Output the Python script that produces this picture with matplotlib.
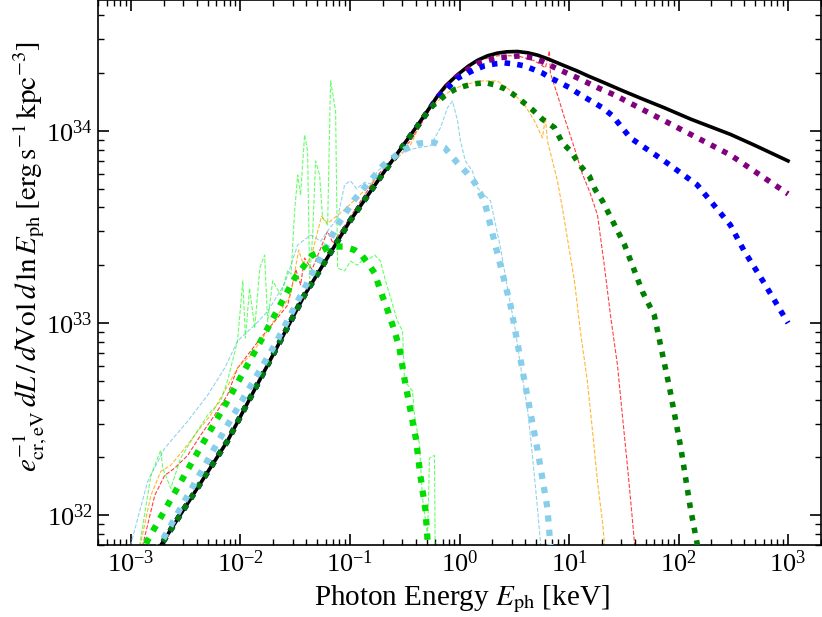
import matplotlib
matplotlib.use('Agg')
import matplotlib.pyplot as plt

plt.rcParams['font.family'] = 'serif'
plt.rcParams['font.serif'] = ['Liberation Serif', 'DejaVu Serif']
plt.rcParams['mathtext.fontset'] = 'stix'

# ---- thick model curves (keV, erg/s/kpc^3) ----
E_total = [1.7e-3, 7.6e-3, 3.85e-2, 0.1, 0.2, 0.414, 0.5, 0.63, 0.75, 0.959, 1.2, 1.46, 1.8, 2.22, 2.7, 3.38, 4.2, 5.15, 6.3, 7.84, 9.5, 11.9, 15, 21.0, 30, 45, 74, 130, 297, 500, 1000]
L_total = [6.4e31, 2.43e32, 1.40e33, 3.4e33, 6.0e33, 1.07e34, 1.25e34, 1.52e34, 1.72e34, 1.96e34, 2.17e34, 2.33e34, 2.46e34, 2.54e34, 2.58e34, 2.59e34, 2.55e34, 2.48e34, 2.38e34, 2.26e34, 2.16e34, 2.05e34, 1.93e34, 1.78e34, 1.63e34, 1.48e34, 1.32e34, 1.15e34, 9.6e33, 8.4e33, 6.98e33]

E_purple = [1.7e-3, 7.6e-3, 3.85e-2, 0.1, 0.2, 0.414, 0.63, 0.959, 1.46, 2.22, 3.6, 4.63, 5.48, 8.17, 11.9, 18.2, 25.9, 74, 297, 1000]
L_purple = [6.4e31, 2.43e32, 1.40e33, 3.4e33, 6.0e33, 1.06e34, 1.50e34, 1.93e34, 2.25e34, 2.40e34, 2.46e34, 2.40e34, 2.32e34, 2.08e34, 1.89e34, 1.68e34, 1.54e34, 1.13e34, 7.5e33, 4.7e33]

E_blue = [1.7e-3, 7.6e-3, 3.85e-2, 0.1, 0.2, 0.414, 0.63, 0.959, 1.37, 1.69, 2.08, 2.57, 3.18, 3.92, 4.83, 5.72, 6.76, 8.3, 10.1, 11.9, 14.1, 17.0, 20.2, 24.9, 36.3, 74, 148, 297, 398, 604, 1000]
L_blue = [6.4e31, 2.43e32, 1.40e33, 3.4e33, 6.0e33, 1.06e34, 1.48e34, 1.88e34, 2.08e34, 2.18e34, 2.23e34, 2.26e34, 2.23e34, 2.18e34, 2.08e34, 2.0e34, 1.89e34, 1.78e34, 1.68e34, 1.58e34, 1.49e34, 1.40e34, 1.32e34, 1.20e34, 9.2e33, 6.98e33, 5.24e33, 3.24e33, 2.37e33, 1.62e33, 1.0e33]

E_green = [1.7e-3, 7.6e-3, 3.85e-2, 0.1, 0.2, 0.414, 0.543, 0.729, 0.9, 1.11, 1.37, 1.73, 2.08, 2.57, 3.05, 3.6, 4.63, 5.72, 7.37, 8.7, 10.3, 12.7, 15.3, 17.4, 20.2, 32, 47, 60, 83, 105, 128, 148, 156]
L_green = [6.4e31, 2.43e32, 1.40e33, 3.4e33, 6.0e33, 1.06e34, 1.32e34, 1.52e34, 1.64e34, 1.71e34, 1.76e34, 1.78e34, 1.74e34, 1.66e34, 1.56e34, 1.45e34, 1.29e34, 1.15e34, 1.04e34, 8.66e33, 7.87e33, 6.58e33, 5.83e33, 4.93e33, 4.32e33, 2.57e33, 1.45e33, 1.10e33, 4.57e32, 2.24e32, 1.10e32, 7.1e31, 6.0e31]

E_sky = [1.7e-3, 7.6e-3, 2.05e-2, 7.71e-2, 0.11, 0.2, 0.3, 0.42, 0.59, 0.73, 0.83, 0.96, 1.18, 1.37, 1.69, 2.22, 2.92, 3.92, 5.15, 6.35, 6.9]
L_sky = [6.5e31, 2.94e32, 7.67e32, 3.24e33, 4.4e33, 6.6e33, 7.9e33, 8.6e33, 8.7e33, 8.2e33, 7.5e33, 6.8e33, 6.0e33, 5.4e33, 4.3e33, 2.3e33, 1.24e33, 5.0e32, 2.2e32, 1.09e32, 6.0e31]

E_lime = [1.3e-3, 1.4e-3, 3.82e-3, 7.6e-3, 1.53e-2, 3.12e-2, 4.5e-2, 6.5e-2, 8.9e-2, 0.11, 0.13, 0.15, 0.168, 0.19, 0.22, 0.255, 0.283, 0.315, 0.357, 0.40, 0.44, 0.49, 0.51, 0.52]
L_lime = [6.0e31, 7.3e31, 2.0e32, 3.93e32, 8.06e32, 1.71e33, 2.25e33, 2.5e33, 2.5e33, 2.4e33, 2.23e33, 2.0e33, 1.82e33, 1.47e33, 1.17e33, 9.1e32, 7.4e32, 5.1e32, 3.5e32, 2.5e32, 1.6e32, 1.05e32, 7.5e31, 6.0e31]

# ---- thin dashed simulated spectra ----
E_red_d = [1.2e-3, 1.65e-3, 2.03e-3, 2.51e-3, 3.3e-3, 4.33e-3, 5.82e-3, 7.6e-3, 9.4e-3, 1.16e-2, 1.53e-2, 2.05e-2, 2.7e-2, 3.2e-2, 3.54e-2, 3.85e-2, 4.5e-2, 6.25e-2, 7.0e-2, 0.179, 0.357, 0.63, 0.959, 1.46, 2.22, 3.38, 4.83, 6.09, 6.62, 6.76, 7.84, 9.27, 11.2, 13.2, 15.5, 18.2, 21.0, 23.9, 27.7, 30.7, 34.1, 37.1, 39.5, 40.5]
L_red_d = [6.0e31, 1.27e32, 1.61e32, 1.76e32, 2.05e32, 2.61e32, 3.32e32, 4.22e32, 5.83e32, 6.81e32, 8.36e32, 1.02e33, 1.24e33, 1.9e33, 1.58e33, 2.18e33, 1.9e33, 3.01e33, 2.6e33, 5.9e33, 8.87e33, 1.49e34, 1.96e34, 2.32e34, 2.46e34, 2.46e34, 2.32e34, 2.13e34, 2.61e34, 2.0e34, 1.54e34, 1.13e34, 8.16e33, 6.0e33, 4.8e33, 3.65e33, 2.0e33, 1.10e33, 6.04e32, 3.32e32, 1.82e32, 1.09e32, 7.3e31, 6.0e31]

E_orange_d = [1.15e-3, 1.52e-3, 1.87e-3, 2.31e-3, 3.1e-3, 4.07e-3, 5.34e-3, 7.18e-3, 9.4e-3, 1.24e-2, 1.66e-2, 2.19e-2, 2.87e-2, 3.4e-2, 3.85e-2, 4.5e-2, 5.5e-2, 6.25e-2, 8.93e-2, 0.179, 0.357, 0.48, 0.63, 0.828, 1.11, 1.56, 2.22, 2.92, 3.92, 4.83, 5.72, 6.09, 6.35, 7.06, 7.84, 8.7, 11.2, 12.7, 14.7, 16.4, 18.2, 20.2, 21.0, 21.5]
L_orange_d = [6.0e31, 1.27e32, 1.69e32, 1.82e32, 2.23e32, 2.74e32, 3.32e32, 4.43e32, 5.83e32, 6.81e32, 8.66e32, 1.10e33, 1.40e33, 2.4e33, 1.93e33, 2.3e33, 3.6e33, 3.3e33, 3.9e33, 5.69e33, 8.45e33, 1.21e34, 1.43e34, 1.62e34, 1.74e34, 1.82e34, 1.82e34, 1.62e34, 1.37e34, 1.13e34, 9.2e33, 1.17e34, 8.87e33, 6.98e33, 5.5e33, 3.97e33, 1.66e33, 9.08e32, 4.99e32, 2.74e32, 1.50e32, 9.3e31, 7.3e31, 6.0e31]

E_sky_d = [9.6e-4, 1.42e-3, 2.03e-3, 3.3e-3, 5.02e-3, 7.18e-3, 9.4e-3, 1.35e-2, 1.77e-2, 2.53e-2, 3.33e-2, 4.37e-2, 5.4e-2, 6.25e-2, 7.71e-2, 8.93e-2, 0.101, 0.115, 0.136, 0.154, 0.179, 0.255, 0.315, 0.414, 0.543, 0.671, 0.777, 0.863, 0.959, 1.02, 1.13, 1.31, 1.46, 1.69, 1.92, 2.37, 2.74, 3.18, 3.6, 4.17, 4.63, 5.15, 5.48, 5.6]
L_sky_d = [6.5e31, 1.50e32, 2.23e32, 3.09e32, 4.22e32, 5.83e32, 8.06e32, 9.77e32, 1.15e33, 1.6e33, 2.55e33, 2.87e33, 2.67e33, 3.01e33, 3.52e33, 5.24e33, 5.5e33, 5.0e33, 5.4e33, 5.3e33, 6.19e33, 7.23e33, 7.87e33, 8.16e33, 8.36e33, 1.04e34, 1.32e34, 1.43e34, 1.13e34, 8.87e33, 6.98e33, 6.19e33, 5.05e33, 4.64e33, 4.32e33, 2.46e33, 1.52e33, 9.77e32, 6.04e32, 3.61e32, 2.05e32, 1.09e32, 7.3e31, 6.0e31]

E_lime_d = [1.15e-3, 1.52e-3, 1.87e-3, 1.95e-3, 2.31e-3, 2.84e-3, 3.82e-3, 5.02e-3, 6.6e-3, 7.6e-3, 9.4e-3, 1.05e-2, 1.11e-2, 1.21e-2, 1.35e-2, 1.5e-2, 1.66e-2, 1.77e-2, 1.97e-2, 2.33e-2, 2.7e-2, 2.9e-2, 3.12e-2, 3.33e-2, 3.54e-2, 3.85e-2, 4.1e-2, 4.28e-2, 4.56e-2, 4.85e-2, 5.28e-2, 5.62e-2, 6.25e-2, 6.65e-2, 7.39e-2, 7.71e-2, 8.93e-2, 0.101, 0.117, 0.136, 0.154, 0.168, 0.19, 0.211, 0.235, 0.272, 0.302, 0.315, 0.372, 0.388, 0.431, 0.459, 0.511, 0.532, 0.591, 0.6]
L_lime_d = [6.0e31, 1.61e32, 2.18e32, 1.76e32, 1.38e32, 1.98e32, 2.61e32, 3.32e32, 3.93e32, 4.99e32, 8.06e32, 1.66e33, 8.36e32, 1.52e33, 9.42e32, 1.93e33, 2.26e33, 1.02e33, 1.66e33, 1.40e33, 1.87e33, 1.8e33, 3.8e33, 5.9e33, 4.64e33, 9.53e33, 7.87e33, 1.71e33, 2.87e33, 6.98e33, 5.9e33, 3.52e33, 3.24e33, 1.82e34, 1.27e34, 1.93e33, 1.87e33, 2.1e33, 2.0e33, 2.18e33, 2.18e33, 2.26e33, 2.1e33, 1.66e33, 1.35e33, 1.02e33, 9.08e32, 4.99e32, 4.43e32, 3.32e32, 2.32e32, 1.23e32, 7.87e31, 1.98e32, 2.05e32, 6.0e31]

fig = plt.figure(figsize=(8.22, 6.17), dpi=100)
ax = fig.add_axes([98/822, 72/617, 723/822, 545/617])

ax.plot(E_total, L_total, color='black', lw=2.6, zorder=3)

dash_w = 0.8
ax.plot(E_red_d, L_red_d, '--', color='red', lw=dash_w, alpha=0.75, zorder=2)
ax.plot(E_orange_d, L_orange_d, '--', color='orange', lw=dash_w, alpha=0.8, zorder=2)
ax.plot(E_sky_d, L_sky_d, '--', color='skyblue', lw=dash_w, alpha=0.9, zorder=2)
ax.plot(E_lime_d, L_lime_d, '--', color='lime', lw=dash_w, alpha=0.6, zorder=2)

dots = (0, (1, 1.3))
ax.plot(E_purple, L_purple, color='purple', lw=4, ls=dots, zorder=4)
ax.plot(E_blue, L_blue, color='blue', lw=4, ls=dots, zorder=4)
ax.plot(E_green, L_green, color='green', lw=4, ls=dots, zorder=4)
ax.plot(E_sky, L_sky, color='skyblue', lw=4.5, ls=dots, zorder=4)
ax.plot(E_lime, L_lime, color='#00dd00', lw=4.5, ls=dots, zorder=4)

ax.set_xscale('log')
ax.set_yscale('log')
ax.set_xlim(5e-4, 2e3)
ax.set_ylim(7e31, 4.8e34)

ax.set_xlabel(r'Photon Energy $E_{\rm ph}$ [keV]', fontsize=21)
ax.set_ylabel(r'$e_{\rm cr,eV}^{-1}\,dL\,/\,d{\rm Vol}\,d\,\ln E_{\rm ph}\;[{\rm erg\,s^{-1}\,kpc^{-3}}]$',
              fontsize=21)
ax.xaxis.set_label_coords(0.503, -0.07)
ax.yaxis.set_label_coords(-0.068, 0.53)

ax.tick_params(which='both', direction='in', top=True, right=True, labelsize=19, pad=4)
ax.tick_params(which='major', length=8, width=1.2)
ax.tick_params(which='minor', length=4, width=1.0)
for s in ax.spines.values():
    s.set_linewidth(1.2)

fig.savefig('out.png', dpi=100)
